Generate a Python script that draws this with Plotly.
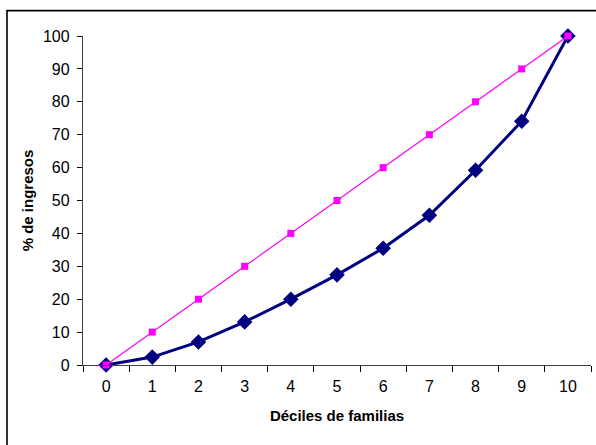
import plotly.graph_objects as go

deciles = ["0", "1", "2", "3", "4", "5", "6", "7", "8", "9", "10"]
lorenz = [0, 2.4, 7.0, 13.1, 20.0, 27.4, 35.5, 45.5, 59.2, 74.1, 100]
equality = [0, 10, 20, 30, 40, 50, 60, 70, 80, 90, 100]
y_ticks = [0, 10, 20, 30, 40, 50, 60, 70, 80, 90, 100]

FONT = "Liberation Sans, Arial, sans-serif"

fig = go.Figure()
fig.add_trace(go.Scatter(
    x=deciles, y=lorenz, mode="lines+markers",
    line=dict(color="#000080", width=3),
    marker=dict(symbol="diamond", size=12, color="#000080"),
    cliponaxis=False, showlegend=False))
fig.add_trace(go.Scatter(
    x=deciles, y=equality, mode="lines+markers",
    line=dict(color="#FF00FF", width=1.2),
    marker=dict(symbol="square", size=7, color="#FF00FF"),
    cliponaxis=False, showlegend=False))

L, R, T, B = 83, 5, 35.5, 79.5
W, H = 596, 445
pw = W - L - R
ph = H - T - B

fig.update_layout(
    width=W, height=H,
    margin=dict(l=L, r=R, t=T, b=B, pad=0),
    paper_bgcolor="white", plot_bgcolor="white",
    font=dict(family=FONT, size=14, color="black"),
    xaxis=dict(
        type="category", tickson="boundaries",
        range=[-0.5, 10.5],
        showline=True, linecolor="#404040", linewidth=1.3,
        ticks="outside", ticklen=6, tickcolor="black", tickwidth=1,
        showgrid=False, zeroline=False,
        tickfont=dict(size=16),
        ticklabelstandoff=7,
        title=dict(text="<b>Déciles de familias</b>", font=dict(size=15), standoff=16),
    ),
    yaxis=dict(
        range=[0, 100], tickvals=y_ticks,
        showline=True, linecolor="#404040", linewidth=1.3,
        ticks="outside", ticklen=5, tickcolor="black", tickwidth=1,
        showgrid=False, zeroline=False,
        tickfont=dict(size=16),
        ticklabelstandoff=4,
        title=dict(text="<b>% de ingresos</b>", font=dict(size=15), standoff=5),
    ),
)

# outer chart frame (left and top edges visible; right/bottom run off the picture)
fig.add_shape(
    type="rect", xref="paper", yref="paper",
    x0=(7 - L) / pw, x1=(W + 20 - L) / pw,
    y0=-(H + 20 - (T + ph)) / ph, y1=((T + ph) - 10) / ph,
    line=dict(color="black", width=1.6), fillcolor="rgba(0,0,0,0)", layer="below")

fig.write_html("out.html")
